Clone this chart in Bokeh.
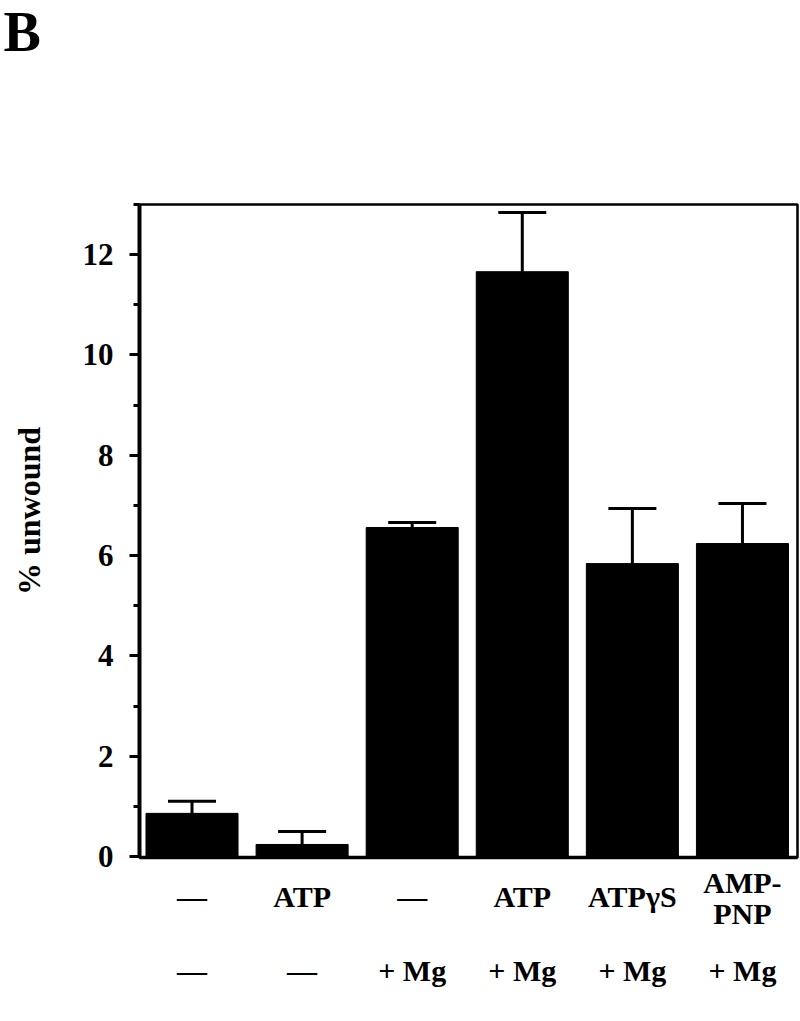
from bokeh.plotting import figure
from bokeh.models import Range1d, SingleIntervalTicker, FixedTicker, LinearAxis, Title
from bokeh.embed import file_html
from bokeh.resources import INLINE

# ---- data ----
positions = [0, 1, 2, 3, 4, 5]
values = [0.86, 0.24, 6.56, 11.66, 5.84, 6.24]
errors = [0.24, 0.26, 0.10, 1.18, 1.10, 0.80]
row1_labels = ["\u2014", "ATP", "\u2014", "ATP", "ATP\u03b3S", "AMP-\nPNP"]
row2_labels = ["\u2014", "\u2014", "+ Mg", "+ Mg", "+ Mg", "+ Mg"]
y_label = "% unwound"
panel_letter = "B"

FONT = "Liberation Serif"
W, H = 800, 1021

p = figure(width=W, height=H, output_backend="svg", toolbar_location=None,
           x_range=Range1d(-0.477, 5.5), y_range=Range1d(-0.02, 13.0),
           min_border_left=139, min_border_right=3, min_border_top=204,
           min_border_bottom=164, x_axis_location=None, y_axis_location=None)
p.grid.visible = False
p.background_fill_color = "white"
p.border_fill_color = "white"
p.outline_line_color = "black"
p.outline_line_width = 2.5

# panel letter as an outer title, with a spacer title closer to the frame
p.title = Title(text=panel_letter, align="left", offset=-136, vertical_align="top", standoff=0,
                text_font=FONT, text_font_style="bold", text_font_size="56px", text_color="black")
p.add_layout(Title(text=" ", text_font_size="10px", standoff=127), "above")

# y axis
yax = LinearAxis(ticker=SingleIntervalTicker(interval=2, num_minor_ticks=2))
yax.axis_line_width = 4
yax.axis_line_color = "black"
yax.major_tick_out = 10
yax.major_tick_in = 0
yax.minor_tick_out = 6
yax.minor_tick_in = 0
yax.major_tick_line_width = 3
yax.minor_tick_line_width = 3
yax.major_label_text_font = FONT
yax.major_label_text_font_style = "bold"
yax.major_label_text_font_size = "31px"
yax.major_label_text_color = "black"
yax.major_label_standoff = 16
yax.axis_label = "\u00a0" * 5 + y_label
yax.axis_label_text_font = FONT
yax.axis_label_text_font_style = "bold"
yax.axis_label_text_font_size = "32px"
yax.axis_label_text_color = "black"
yax.axis_label_standoff = 33
p.add_layout(yax, "left")


def label_axis(ticks, labels, standoff, line=False):
    ax = LinearAxis(ticker=FixedTicker(ticks=ticks))
    ax.major_label_overrides = {t: s for t, s in zip(ticks, labels)}
    ax.major_tick_line_color = None
    ax.minor_tick_line_color = None
    ax.major_tick_out = 0
    ax.major_tick_in = 0
    ax.minor_tick_out = 0
    ax.minor_tick_in = 0
    if line:
        ax.axis_line_width = 3.5
        ax.axis_line_color = "black"
    else:
        ax.axis_line_color = None
    ax.major_label_text_font = FONT
    ax.major_label_text_font_style = "bold"
    ax.major_label_text_font_size = "30px"
    ax.major_label_text_color = "black"
    ax.major_label_standoff = standoff
    p.add_layout(ax, "below")
    return ax


# row 1: two-line label split over the rows above/below the single-line labels
single_pos = [x for x, t in zip(positions, row1_labels) if "\n" not in t]
single_txt = [t for t in row1_labels if "\n" not in t]
multi_pos = [x for x, t in zip(positions, row1_labels) if "\n" in t]
multi_top = [t.split("\n")[0] for t in row1_labels if "\n" in t]
multi_bot = [t.split("\n")[1] for t in row1_labels if "\n" in t]

label_axis(multi_pos, multi_top, 8, line=True)
label_axis(single_pos, single_txt, -22)
label_axis(multi_pos, multi_bot, -19)
label_axis(positions, row2_labels, 21)

# bars
p.vbar(x=positions, top=values, bottom=0, width=0.836, fill_color="black", line_color="black")

# error bars
tops = [v + e for v, e in zip(values, errors)]
p.segment(x0=positions, y0=values, x1=positions, y1=tops, line_color="black", line_width=3)
p.segment(x0=[x - 0.218 for x in positions], y0=tops, x1=[x + 0.218 for x in positions], y1=tops,
          line_color="black", line_width=3)

open("out.html", "w").write(file_html(p, INLINE))
